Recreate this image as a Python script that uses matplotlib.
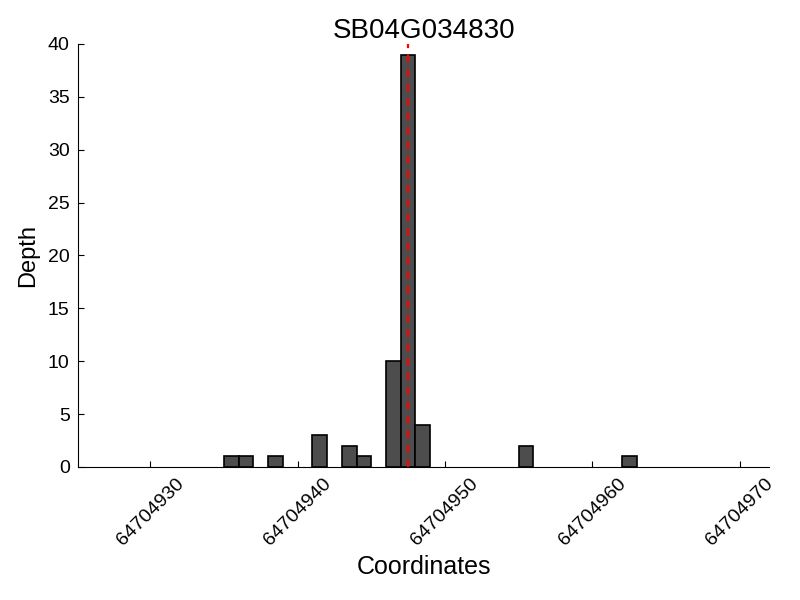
import matplotlib
matplotlib.use('Agg')
import matplotlib.pyplot as plt

plt.rcParams['font.family'] = ['Liberation Sans', 'DejaVu Sans']

# posizioni (inizio della base) e profondita'
posizioni = [64704935, 64704936, 64704938, 64704941, 64704943, 64704944,
             64704946, 64704947, 64704948, 64704955, 64704962]
profondita = [1, 1, 1, 3, 2, 1, 10, 39, 4, 2, 1]
posizione_snp = 64704947.5
xticks = [64704930, 64704940, 64704950, 64704960, 64704970]
titolo = 'SB04G034830'

figura = plt.figure(figsize=(8, 6), dpi=100)
grafico = figura.add_axes([0.0975, 0.2217, 0.864, 0.705])

grafico.bar(posizioni, profondita, width=1, align='edge',
            color='#4d4d4d', edgecolor='black', linewidth=1.2)
grafico.axvline(posizione_snp, color='red', linestyle='--', linewidth=1.6, dashes=(3.5, 3))

grafico.set_xlim(64704925.1, 64704972)
grafico.set_ylim(0, 40)
grafico.set_xticks(xticks)
grafico.set_xticklabels([str(t) for t in xticks], rotation=45, fontsize=14)
grafico.tick_params(axis='y', labelsize=14)
grafico.tick_params(direction='in', length=4, top=False, right=False, pad=6)

for lato in ['top', 'right']:
    grafico.spines[lato].set_visible(False)

grafico.set_title(titolo, fontsize=20, pad=4)
grafico.set_xlabel('Coordinates', fontsize=18, labelpad=4)
grafico.set_ylabel('Depth', fontsize=17, labelpad=6)

figura.savefig('out.png', dpi=100)
